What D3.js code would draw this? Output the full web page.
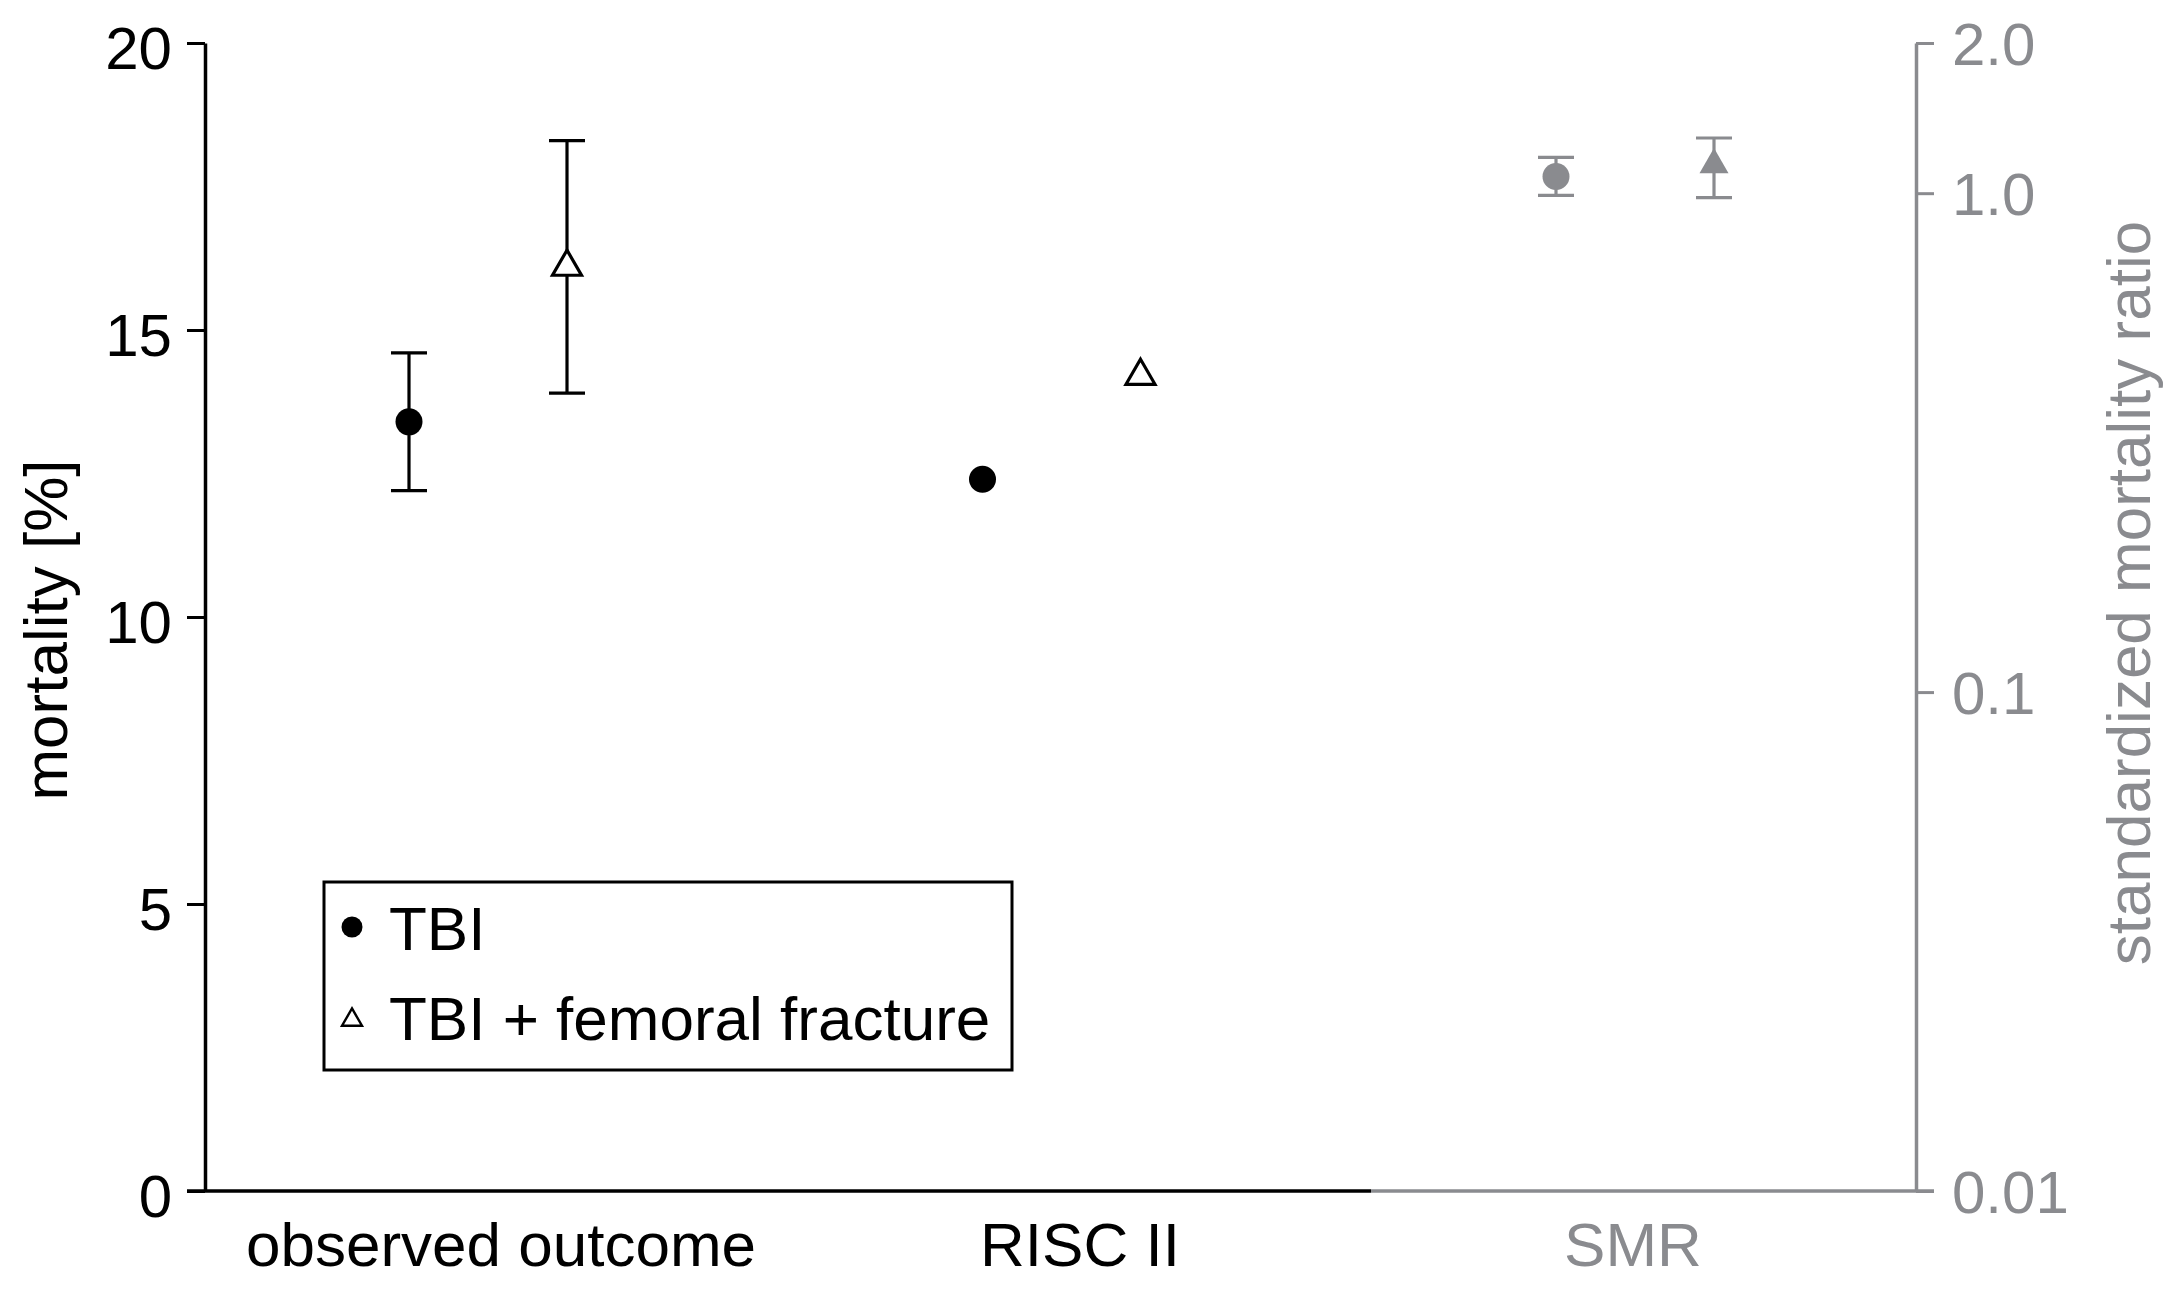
<!DOCTYPE html>
<html><head><meta charset="utf-8">
<script src="https://cdn.jsdelivr.net/npm/d3@7"></script>
<style>
body{margin:0;background:#fff}
text{font-family:"Liberation Sans",Arial,sans-serif}
</style>
</head><body><svg id="chart" width="2173" height="1294"></svg>
<script>
// ---- data ----
const categories = ["observed outcome", "RISC II", "SMR"];
const seriesNames = ["TBI", "TBI + femoral fracture"];
// mortality [%] for observed outcome and RISC II
const mortalityTBI = [13.4, 12.4];
const mortalityTBIFem = [16.1, 14.2];
const ciLowTBI = [12.2, null];
const ciHighTBI = [14.6, null];
const ciLowTBIFem = [13.9, null];
const ciHighTBIFem = [18.3, null];
// standardized mortality ratio
const smrValues = [1.08, 1.14];
const smrLow = [0.99, 0.98];
const smrHigh = [1.18, 1.29];
const leftTicks = [0, 5, 10, 15, 20];
const rightTicks = [0.01, 0.1, 1, 2];
const rightTickLabels = ["0.01", "0.1", "1.0", "2.0"];

// ---- layout ----
const black = "#000", gray = "#8a8b8f";
const svg = d3.select("#chart");
const xL = 205, xR = 1916, yTop = 43, yBot = 1191;
const yLeft = d3.scaleLinear().domain([0, 20]).range([yBot, yTop]);
const yRight = d3.scaleLog().domain([0.01, 2]).range([yBot, yTop]);
const x = d3.scalePoint().domain(categories).range([488, 1635]);
const xLabel = d3.scaleOrdinal().domain(categories).range([501, 1080, 1633]);
const off = d3.scalePoint().domain(seriesNames).range([-79, 79]);
const bigFont = 62;

// bottom axis line (black part, gray part)
const split = 1371;
svg.append("line").attr("x1", xL - 18).attr("x2", split).attr("y1", yBot).attr("y2", yBot)
  .attr("stroke", black).attr("stroke-width", 3.5);
svg.append("line").attr("x1", split).attr("x2", xR + 18).attr("y1", yBot).attr("y2", yBot)
  .attr("stroke", gray).attr("stroke-width", 3.5);

// left axis
const gL = svg.append("g").attr("transform", `translate(${xL},0)`)
  .call(d3.axisLeft(yLeft).tickValues(leftTicks).tickSize(18).tickSizeOuter(0).tickPadding(15));
gL.select(".domain").attr("stroke", black).attr("stroke-width", 3.5);
gL.selectAll(".tick line").attr("stroke", black).attr("stroke-width", 3);
gL.selectAll(".tick text").attr("font-size", 60).attr("fill", black).attr("dy", "0.42em")
  .style("font-family", '"Liberation Sans",Arial,sans-serif');

// right axis
const gR = svg.append("g").attr("transform", `translate(${xR},0)`)
  .call(d3.axisRight(yRight).tickValues(rightTicks).tickFormat((d, i) => rightTickLabels[i])
    .tickSize(18).tickSizeOuter(0).tickPadding(18));
gR.select(".domain").attr("stroke", gray).attr("stroke-width", 3.5);
gR.selectAll(".tick line").attr("stroke", gray).attr("stroke-width", 3);
gR.selectAll(".tick text").attr("font-size", 60).attr("fill", gray).attr("dy", "0.36em")
  .style("font-family", '"Liberation Sans",Arial,sans-serif');

// axis titles
svg.append("text").attr("transform", `translate(67,630) rotate(-90)`)
  .attr("text-anchor", "middle").attr("font-size", bigFont).attr("fill", black).text("mortality [%]");
svg.append("text").attr("transform", `translate(2150,593) rotate(-90)`)
  .attr("text-anchor", "middle").attr("font-size", bigFont).attr("fill", gray).text("standardized mortality ratio");

// category labels
svg.selectAll(".cat").data(categories).enter().append("text")
  .attr("x", d => xLabel(d)).attr("y", 1266).attr("text-anchor", "middle")
  .attr("font-size", bigFont).attr("fill", (d, i) => i === 2 ? gray : black).text(d => d);

// marks helper
const capW = 36;
function errBar(cx, y1, y2, color) {
  const g = svg.append("g").attr("stroke", color).attr("stroke-width", 3.2);
  g.append("line").attr("x1", cx).attr("x2", cx).attr("y1", y1).attr("y2", y2);
  g.append("line").attr("x1", cx - capW / 2).attr("x2", cx + capW / 2).attr("y1", y1).attr("y2", y1);
  g.append("line").attr("x1", cx - capW / 2).attr("x2", cx + capW / 2).attr("y1", y2).attr("y2", y2);
}
const circleSym = d3.symbol().type(d3.symbolCircle).size(Math.PI * 13.5 * 13.5);
const triSym = d3.symbol().type(d3.symbolTriangle).size(Math.sqrt(3) / 4 * 29 * 29);
const triSymSmall = d3.symbol().type(d3.symbolTriangle).size(Math.sqrt(3) / 4 * 20 * 20);

// observed & RISC II
const mortCats = categories.slice(0, 2);
mortCats.forEach((c, i) => {
  const cx0 = x(c) + off(seriesNames[0]);
  const cx1 = x(c) + off(seriesNames[1]);
  if (ciLowTBI[i] != null) errBar(cx0, yLeft(ciHighTBI[i]), yLeft(ciLowTBI[i]), black);
  if (ciLowTBIFem[i] != null) errBar(cx1, yLeft(ciHighTBIFem[i]), yLeft(ciLowTBIFem[i]), black);
  svg.append("path").attr("d", circleSym()).attr("transform", `translate(${cx0},${yLeft(mortalityTBI[i])})`)
    .attr("fill", black);
  svg.append("path").attr("d", triSym()).attr("transform", `translate(${cx1},${yLeft(mortalityTBIFem[i])})`)
    .attr("fill", "#fff").attr("stroke", black).attr("stroke-width", 3.2).attr("stroke-linejoin", "miter");
});

// SMR
seriesNames.forEach((s, i) => {
  const cx = x("SMR") + off(s);
  errBar(cx, yRight(smrHigh[i]), yRight(smrLow[i]), gray);
  svg.append("path").attr("d", i === 0 ? circleSym() : triSym())
    .attr("transform", `translate(${cx},${yRight(smrValues[i])})`).attr("fill", gray);
});

// legend
const lg = svg.append("g");
lg.append("rect").attr("x", 324).attr("y", 882).attr("width", 688).attr("height", 188)
  .attr("fill", "#fff").attr("stroke", black).attr("stroke-width", 3);
lg.append("circle").attr("cx", 352).attr("cy", 927).attr("r", 10.5).attr("fill", black);
lg.append("path").attr("d", triSymSmall()).attr("transform", "translate(352,1020)")
  .attr("fill", "#fff").attr("stroke", black).attr("stroke-width", 2.4);
lg.selectAll(".lt").data(seriesNames).enter().append("text")
  .attr("x", 389).attr("y", (d, i) => 950 + i * 90).attr("font-size", bigFont).attr("fill", black).text(d => d);
</script>
</body></html>
